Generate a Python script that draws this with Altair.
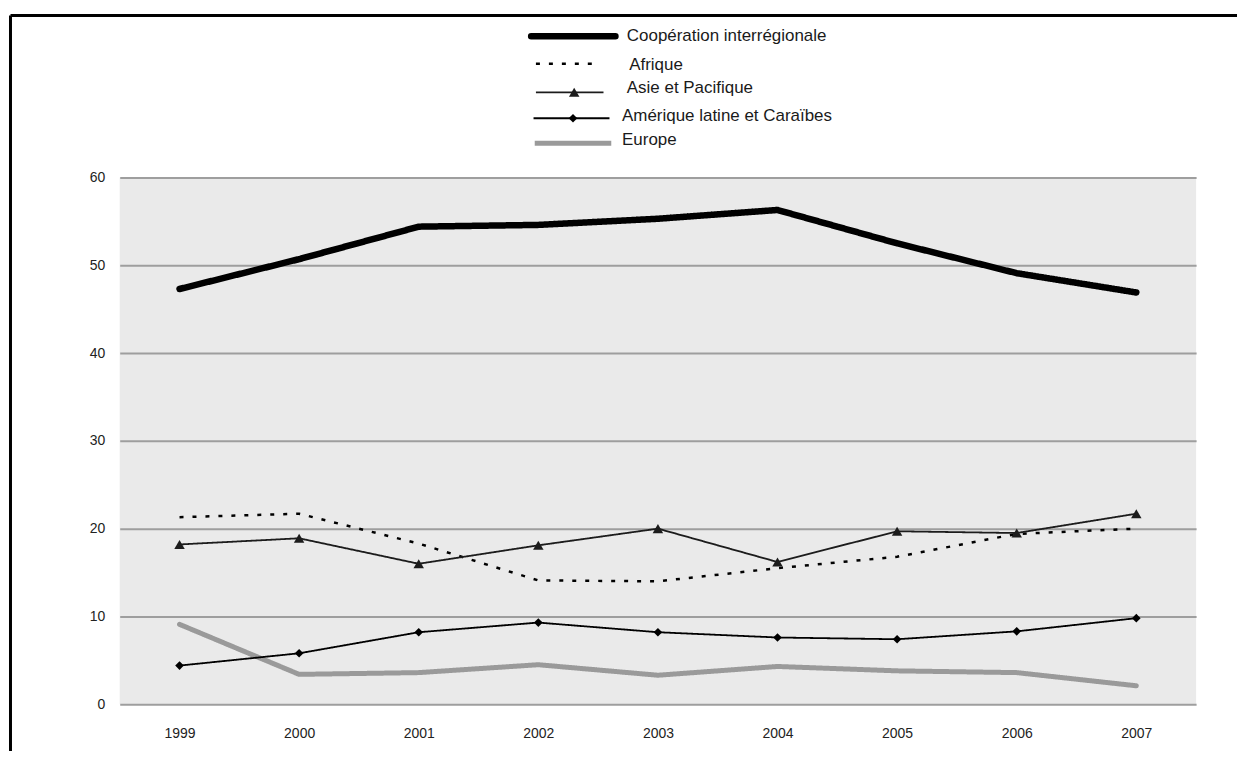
import altair as alt
import pandas as pd

# ---------------- data ----------------
years = [1999, 2000, 2001, 2002, 2003, 2004, 2005, 2006, 2007]
series_names = [
    "Coopération interrégionale",
    "Afrique",
    "Asie et Pacifique",
    "Amérique latine et Caraïbes",
    "Europe",
]
coop = [47.3, 50.7, 54.4, 54.6, 55.3, 56.3, 52.5, 49.1, 46.9]
afrique = [21.3, 21.7, 18.3, 14.1, 14.0, 15.5, 16.8, 19.4, 20.0]
asie = [18.2, 18.9, 16.0, 18.1, 20.0, 16.2, 19.7, 19.5, 21.7]
amerique = [4.4, 5.8, 8.2, 9.3, 8.2, 7.6, 7.4, 8.3, 9.8]
europe = [9.1, 3.4, 3.6, 4.5, 3.3, 4.3, 3.8, 3.6, 2.1]
y_ticks = [0, 10, 20, 30, 40, 50, 60]

series_values = dict(zip(series_names, [coop, afrique, asie, amerique, europe]))

# ---------------- styles ----------------
styles = {
    "Coopération interrégionale": dict(color="#000000", width=6.5, dash=[1, 0], marker=None),
    "Afrique": dict(color="#000000", width=2.5, dash=[4, 9], marker=None),
    "Asie et Pacifique": dict(color="#1c1c1c", width=1.8, dash=[1, 0], marker="triangle-up"),
    "Amérique latine et Caraïbes": dict(color="#000000", width=1.8, dash=[1, 0], marker="diamond"),
    "Europe": dict(color="#9a9a9a", width=5, dash=[1, 0], marker=None),
}
marker_size = {"triangle-up": 110, "diamond": 75}

# legend layout (expressed in the chart's own data units: year, value)
legend_line_start = [2001.94, 2001.98, 2001.98, 2001.96, 2001.97]
legend_line_end = [2002.645, 2002.52, 2002.545, 2002.595, 2002.61]
legend_marker_x = [None, None, 2002.30, 2002.29, None]
legend_line_level = [76.1, 72.95, 69.7, 66.75, 63.9]
legend_text_x = [2002.74, 2002.76, 2002.74, 2002.70, 2002.70]
legend_text_level = [76.1, 72.85, 70.15, 66.95, 64.3]

# ---------------- encodings ----------------
x_scale = alt.Scale(domain=[1998.5, 2007.5], nice=False, zero=False)
y_scale = alt.Scale(domain=[0, 60], nice=False)
x_axis = alt.Axis(values=years, format="d", grid=False, domain=False, ticks=False,
                  labelPadding=22, labelFontSize=14, labelColor="#222222",
                  labelFont="Liberation Sans", title=None)
y_axis = alt.Axis(values=y_ticks, grid=True, gridColor="#9e9e9e", gridWidth=2,
                  domain=False, ticks=False, labelPadding=15, labelFontSize=14,
                  labelColor="#222222", labelFont="Liberation Sans", title=None)


def X(field="year"):
    return alt.X(f"{field}:Q", scale=x_scale, axis=x_axis, title=None)


def Y(field="value"):
    return alt.Y(f"{field}:Q", scale=y_scale, axis=y_axis, title=None)


layers = []

# frame (page border, top and left only)
dummy = pd.DataFrame({"k": [0]})
layers.append(
    alt.Chart(dummy).mark_rule(color="#000000", strokeWidth=3).encode(
        x=alt.value(-109.5), x2=alt.value(1120), y=alt.value(-162.5)
    )
)
layers.append(
    alt.Chart(dummy).mark_rule(color="#000000", strokeWidth=3).encode(
        x=alt.value(-109.5), y=alt.value(-162.5), y2=alt.value(575)
    )
)

draw_order = ["Europe", "Afrique", "Amérique latine et Caraïbes", "Asie et Pacifique",
              "Coopération interrégionale"]

for name in draw_order:
    st = styles[name]
    df = pd.DataFrame({"year": years, "value": series_values[name]})
    layers.append(
        alt.Chart(df).mark_line(color=st["color"], strokeWidth=st["width"],
                                strokeDash=st["dash"], strokeCap="butt" if st["dash"] != [1, 0] else "round",
                                strokeJoin="round").encode(x=X(), y=Y())
    )
    if st["marker"]:
        layers.append(
            alt.Chart(df).mark_point(shape=st["marker"], filled=True, color=st["color"],
                                     size=marker_size[st["marker"]], opacity=1).encode(x=X(), y=Y())
        )

# custom legend
for i, name in enumerate(series_names):
    st = styles[name]
    ldf = pd.DataFrame({"year": [legend_line_start[i]], "year2": [legend_line_end[i]],
                        "value": [legend_line_level[i]]})
    layers.append(
        alt.Chart(ldf).mark_rule(color=st["color"], strokeWidth=st["width"],
                                 strokeDash=st["dash"],
                                 strokeCap="round" if i == 0 else "butt").encode(
            x=X(), x2="year2:Q", y=Y())
    )
    if st["marker"]:
        mdf = pd.DataFrame({"year": [legend_marker_x[i]], "value": [legend_line_level[i]]})
        layers.append(
            alt.Chart(mdf).mark_point(shape=st["marker"], filled=True, color=st["color"],
                                      size=marker_size[st["marker"]], opacity=1).encode(x=X(), y=Y())
        )
    tdf = pd.DataFrame({"year": [legend_text_x[i]], "value": [legend_text_level[i]], "label": [name]})
    layers.append(
        alt.Chart(tdf).mark_text(align="left", baseline="middle", fontSize=17,
                                 font="Liberation Sans", color="#1a1a1a").encode(
            x=X(), y=Y(), text="label:N")
    )

chart = alt.layer(*layers).properties(
    width=1079, height=528,
    padding={"left": 1, "top": 5, "right": 0, "bottom": 0},
    background="#ffffff",
).configure_view(fill="#eaeaea", stroke=None)

chart.save("out.html", embed_options={"renderer": "svg", "actions": False})
